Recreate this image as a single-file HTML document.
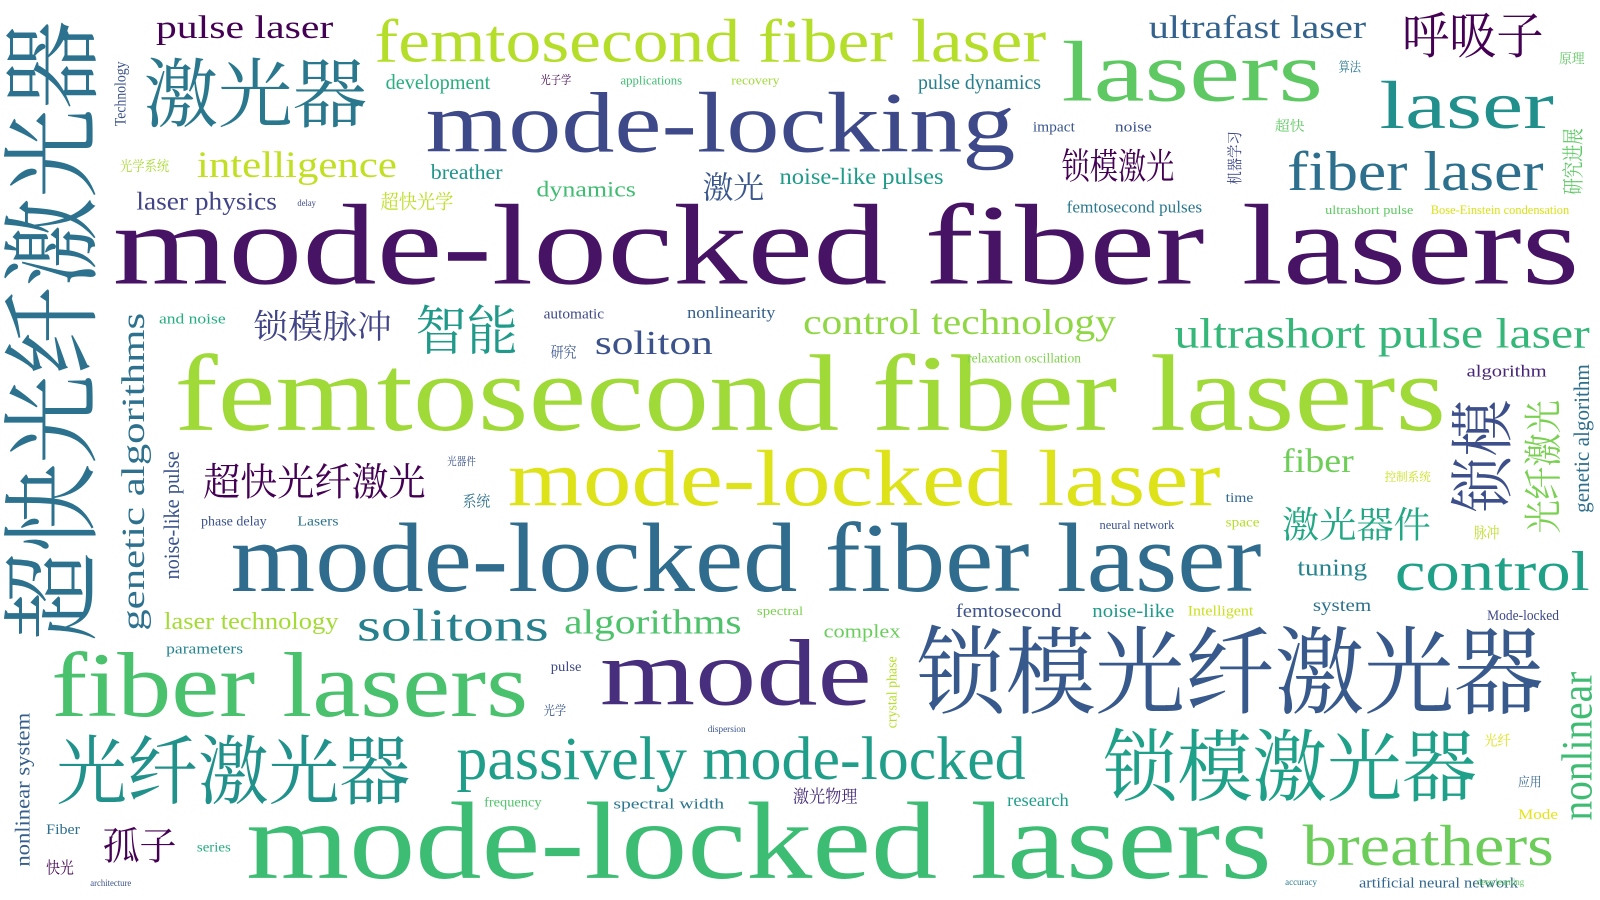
<!DOCTYPE html>
<html><head><meta charset="utf-8">
<style>
html,body{margin:0;padding:0;background:#fff;}
#c{position:relative;width:1600px;height:900px;overflow:hidden;background:#fff;}
#c span{position:absolute;left:0;top:0;white-space:nowrap;line-height:1;transform-origin:0 0;
font-family:"Liberation Serif","Noto Serif CJK SC","Noto Sans CJK SC",serif;}
</style></head><body>
<div id="c"></div>
<script>
var W=[
["mode-locked fiber lasers",110,195,1540,290,"#471365"],
["femtosecond fiber lasers",170,342,1410,432,"#a0da39"],
["mode-locked laser",495,437,1190,503,"#dde318"],
["mode-locked fiber laser",225,507,1230,588,"#2f6c8e"],
["mode-locked lasers",240,777,1240,868,"#3dbc74"],
["mode",585,620,850,698,"#472f7d"],
["锁模光纤激光器",893,617,1505,703,"#38598c"],
["fiber lasers",50,632,515,708,"#4ac16d"],
["光纤激光器",55,722,400,790,"#21918c"],
["passively mode-locked",445,717,1000,768,"#1f9e89"],
["锁模激光器",1075,717,1440,788,"#1fa088"],
["breathers",1270,802,1515,850,"#6ccd5a"],
["mode-locking",415,87,990,158,"#3e4989"],
["femtosecond fiber laser",365,17,1020,68,"#b5de2b"],
["lasers",1035,37,1290,108,"#5ec962"],
["laser",1345,77,1515,133,"#21908d"],
["fiber laser",1255,147,1505,193,"#2d708e"],
["激光器",140,62,358,130,"#2a788e"],
["超快光纤激光器",10,20,100,625,"#2c728e",1],
["control",1360,537,1550,583,"#1fa187"],
["ultrashort pulse laser",1145,310,1550,345,"#35b779"],
["solitons",348,592,535,630,"#27808e"],
["control technology",783,300,1088,330,"#8fd744"],
["soliton",580,322,695,350,"#3b528b"],
["智能",405,302,505,350,"#1f9a8a"],
["锁模脉冲",247,305,382,335,"#414487"],
["超快光纤激光",198,455,415,490,"#440154"],
["intelligence",192,147,387,178,"#c2df23"],
["pulse laser",152,15,325,42,"#440154"],
["ultrafast laser",1120,15,1332,42,"#33638d"],
["呼吸子",1367,15,1505,60,"#440154"],
["锁模激光",1035,148,1145,180,"#440154"],
["激光",685,170,745,198,"#39568c"],
["noise-like pulses",760,163,920,182,"#1e9c89"],
["algorithms",550,593,723,622,"#4ec36b"],
["激光器件",1250,497,1395,530,"#22a884"],
["fiber",1250,437,1320,465,"#6ece58"],
["锁模",1420,390,1478,500,"#3c4f8a",1],
["光纤激光",1490,390,1525,520,"#7ad151",1],
["genetic algorithms",118,305,145,615,"#2d718e",1],
["noise-like pulse",160,440,178,565,"#3a548c",1],
["nonlinear",1522,655,1558,800,"#3fbc73",1],
["tuning",1265,545,1333,565,"#25848e"],
["孤子",100,810,172,845,"#440154"],
["laser physics",133,187,270,208,"#414487"],
["laser technology",160,597,330,617,"#a5db36"],
["dynamics",523,177,620,195,"#40bd72"],
["超快光学",371,190,442,208,"#bddf26"],
["development",376,73,478,90,"#29af7f"],
["breather",420,161,490,178,"#1f968b"],
["pulse dynamics",895,73,1015,90,"#277f8e"],
["nonlinear system",15,695,32,845,"#355f8d",1],
["genetic algorithm",1535,355,1553,500,"#2e6f8e",1],
["研究进展",1525,125,1545,190,"#5cc863",1],
["femtosecond pulses",1040,196,1172,210,"#2a788e"],
["femtosecond",932,589,1035,605,"#3b528b"],
["noise-like",1065,589,1145,605,"#1e9b8a"],
["system",1280,583,1337,598,"#2c728e"],
["complex",803,609,878,625,"#69cd5b"],
["algorithm",1430,356,1508,370,"#482677"],
["nonlinearity",670,299,756,313,"#355f8d"],
["Mode-locked",1450,595,1520,607,"#3e4989"],
["research",982,773,1042,788,"#1f9e89"],
["spectral width",598,779,706,791,"#2a768e"],
["激光物理",773,770,836,786,"#472c7a"],
["frequency",472,777,528,788,"#50c46a"],
["artificial neural network",1325,856,1480,868,"#31668e"],
["series",192,821,225,832,"#27ad81"],
["Fiber",45,804,78,816,"#2e6f8e"],
["快光",45,840,72,855,"#440154"],
["Intelligent",1158,591,1222,603,"#c8e020"],
["parameters",162,628,237,640,"#25848e"],
["and noise",155,306,220,318,"#25ac82"],
["automatic",530,301,589,313,"#3e4989"],
["space",1195,504,1228,515,"#b5de2b"],
["time",1195,480,1222,491,"#31678e"],
["phase delay",196,503,260,514,"#3b528b"],
["Lasers",290,503,330,514,"#2c728e"],
["系统",451,483,478,497,"#2c728e"],
["光学系统",117,157,165,170,"#a8db34"],
["研究",537,338,562,352,"#3a548c"],
["relaxation oscillation",943,344,1054,355,"#7fd34e"],
["impact",1007,119,1048,131,"#39568c"],
["noise",1087,119,1123,131,"#3b528b"],
["超快",1243,118,1272,131,"#5ec962"],
["脉冲",1437,514,1462,528,"#bddf26"],
["光纤",1447,717,1473,730,"#dde318"],
["应用",1480,757,1503,769,"#31668e"],
["Mode",1480,789,1519,801,"#e5e419"],
["pulse",537,645,567,656,"#3e4989"],
["光学",530,687,552,699,"#39568c"],
["spectral",738,591,783,601,"#7ad151"],
["算法",1305,60,1327,72,"#2a788e"],
["原理",1520,52,1545,65,"#5ec962"],
["applications",605,74,665,84,"#40bd72"],
["recovery",713,74,760,84,"#9fda3a"],
["光子学",527,73,557,84,"#440154"],
["机器学习",1198,128,1212,180,"#3e4989",1],
["Technology",112,60,125,123,"#3b528b",1],
["crystal phase",865,640,877,710,"#b5de2b",1],
["neural network",1072,507,1145,517,"#3b528b"],
["光器件",436,446,464,456,"#3b528b"],
["控制系统",1350,460,1395,471,"#cae11f"],
["delay",290,195,308,203,"#3e4989"],
["dispersion",690,708,727,716,"#3a548c"],
["deep learning",1440,857,1486,865,"#5ec962"],
["accuracy",1253,857,1284,865,"#2a788e"],
["architecture",88,858,128,866,"#3b528b"],
["Bose-Einstein condensation",1395,200,1530,210,"#d8e219"],
["ultrashort pulse",1292,200,1378,210,"#5ec962"]
];
var K=1600/1560;
var c=document.getElementById('c');
W.forEach(function(d){
 var t=d[0],x1=d[1]*K,y1=d[2]*K,x2=d[3]*K,y2=d[4]*K,col=d[5],v=d[6];
 var s=document.createElement('span');
 s.textContent=t;s.style.color=col;
 var cjk=/[\u4e00-\u9fff]/.test(t);
 var th=v?(x2-x1):(y2-y1), tl=v?(y2-y1):(x2-x1);
 var fs=cjk?th*1.08:th*1.18;
 s.style.fontSize=fs+'px';
 c.appendChild(s);
 var nw=s.getBoundingClientRect().width;
 var sx=tl/nw;
 var off=cjk?-0.06*fs:-0.1*fs;
 if(!v){
  s.style.transform='translate('+x1+'px,'+(y1+off)+'px) scale('+sx+',1)';
 }else{
  s.style.transform='translate('+(x1+off)+'px,'+y2+'px) rotate(-90deg) scale('+sx+',1)';
 }
});
</script>
</body></html>
